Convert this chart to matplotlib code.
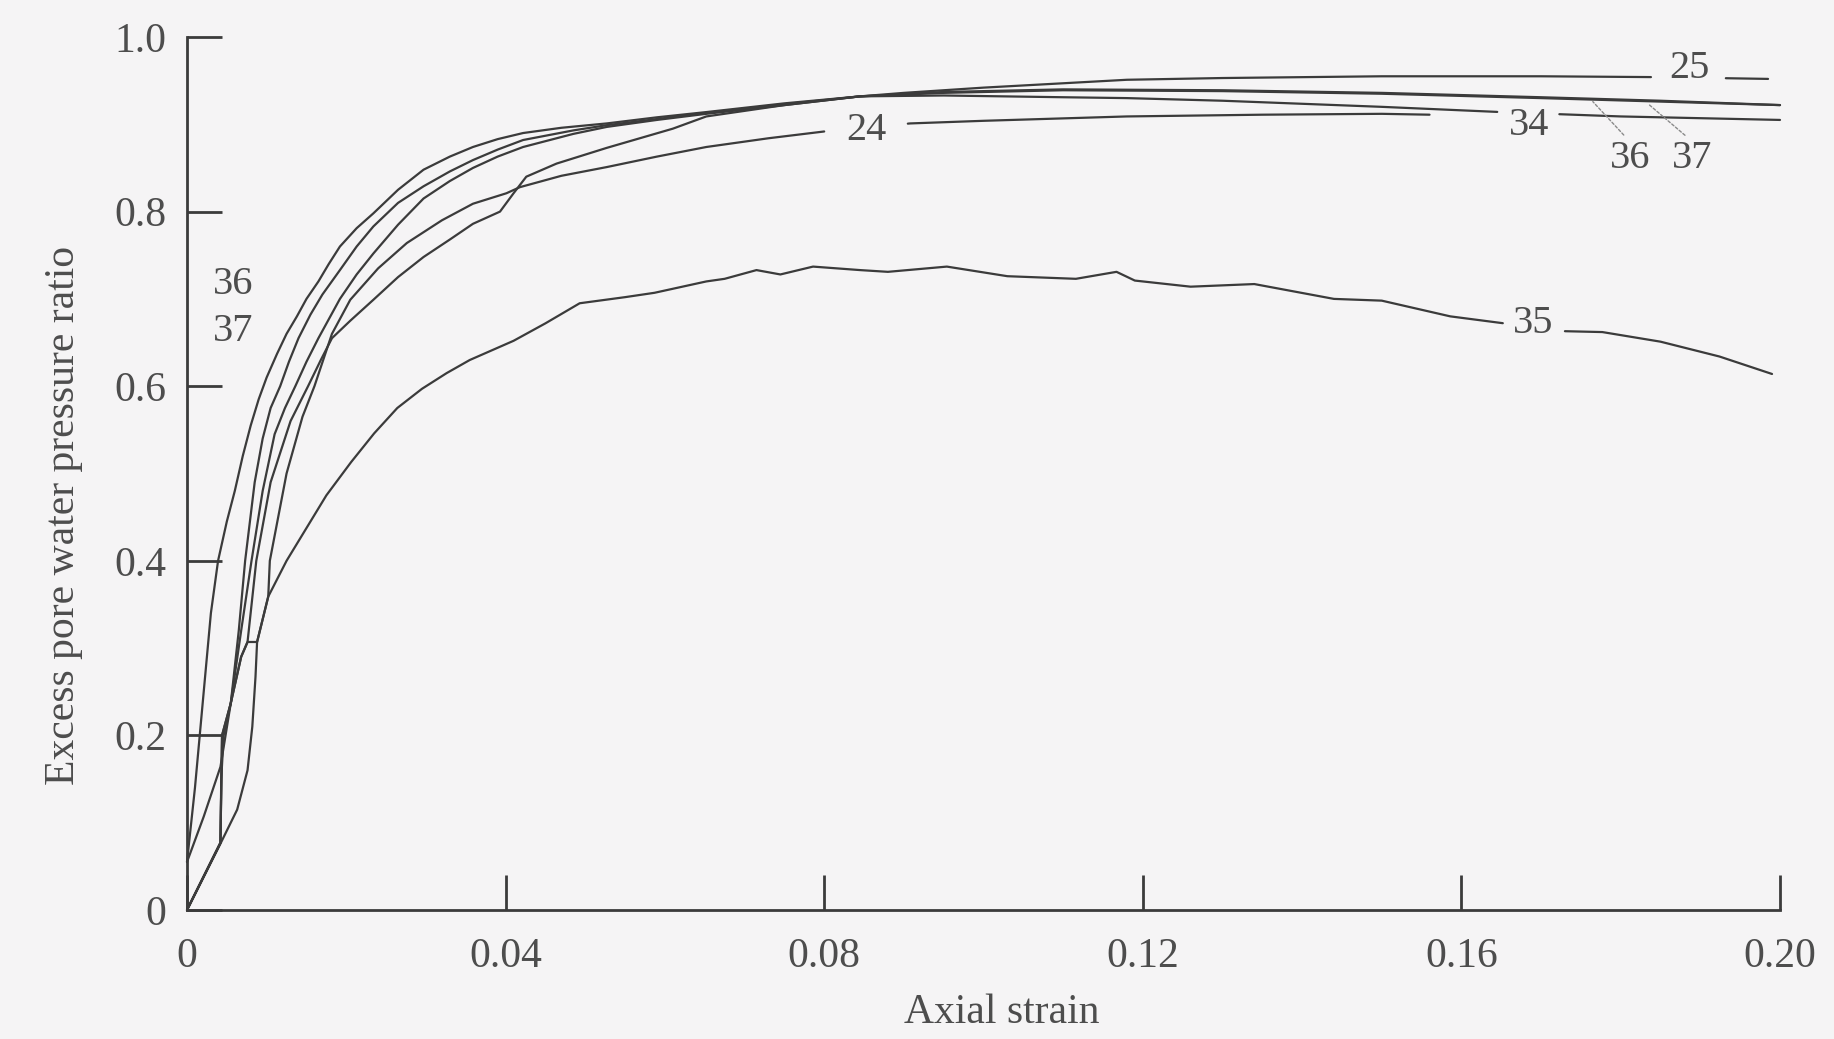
import numpy as np
import matplotlib
matplotlib.use("Agg")
import matplotlib.pyplot as plt

# ---- data: axial strain vs excess pore water pressure ratio, one list pair per test ----
strain_36 = [0, 0.001, 0.002, 0.003, 0.0039, 0.005, 0.006, 0.007, 0.008, 0.009, 0.010,
             0.0113, 0.0125, 0.0138, 0.015, 0.0165, 0.0178, 0.0192, 0.0213, 0.0234,
             0.0265, 0.0297, 0.0330, 0.0359, 0.0390, 0.0422, 0.0470, 0.0527, 0.0590,
             0.0652, 0.0750, 0.0845, 0.0950, 0.1100, 0.1300, 0.1500, 0.1700, 0.1850,
             0.2000]
ratio_36 = [0.055, 0.14, 0.24, 0.34, 0.40, 0.445, 0.48, 0.52, 0.555, 0.585, 0.61,
            0.637, 0.66, 0.68, 0.70, 0.72, 0.74, 0.76, 0.781, 0.798,
            0.825, 0.848, 0.863, 0.874, 0.883, 0.890, 0.896, 0.901, 0.908,
            0.914, 0.924, 0.932, 0.937, 0.940, 0.939, 0.936, 0.931, 0.927,
            0.922]

strain_37 = [0, 0.0021, 0.0042, 0.0055, 0.0065, 0.0073, 0.0085, 0.0095, 0.0105, 0.0117,
             0.0128, 0.0140, 0.0155, 0.0170, 0.0192, 0.0213, 0.0234, 0.0265, 0.0297,
             0.0330, 0.0359, 0.0390, 0.0422, 0.0485, 0.0527, 0.0590, 0.0652, 0.0750,
             0.0845, 0.0950, 0.1100, 0.1300, 0.1500, 0.1700, 0.1850, 0.2000]
ratio_37 = [0.055, 0.107, 0.164, 0.237, 0.32, 0.40, 0.49, 0.54, 0.575, 0.60,
            0.628, 0.655, 0.682, 0.705, 0.733, 0.760, 0.783, 0.810, 0.829,
            0.846, 0.859, 0.871, 0.882, 0.893, 0.899, 0.906, 0.913, 0.923,
            0.932, 0.936, 0.939, 0.938, 0.935, 0.930, 0.926, 0.922]

strain_25 = [0, 0.0042, 0.0043, 0.0046, 0.0055, 0.0068, 0.0081, 0.0095, 0.0110, 0.0123,
             0.0136, 0.0150, 0.0165, 0.0192, 0.0213, 0.0234, 0.0265, 0.0297, 0.0330,
             0.0359, 0.0390, 0.0422, 0.0485, 0.0527, 0.0590, 0.0652, 0.0750, 0.0845,
             0.0900, 0.1000, 0.1100, 0.1180, 0.1300, 0.1500, 0.1700, 0.1850, 0.1985]
ratio_25 = [0, 0.077, 0.15, 0.20, 0.237, 0.32, 0.40, 0.48, 0.545, 0.575,
            0.60, 0.628, 0.655, 0.70, 0.728, 0.752, 0.785, 0.815, 0.835,
            0.850, 0.863, 0.874, 0.889, 0.897, 0.905, 0.912, 0.922, 0.932,
            0.936, 0.942, 0.947, 0.951, 0.953, 0.955, 0.955, 0.954, 0.952]

strain_34 = [0, 0.0042, 0.0044, 0.0055, 0.0068, 0.0076, 0.0087, 0.0105, 0.0130, 0.0152,
             0.0168, 0.0182, 0.0205, 0.0234, 0.0265, 0.0297, 0.0330, 0.0359, 0.0393,
             0.0410, 0.0426, 0.0464, 0.0527, 0.0610, 0.0652, 0.0750, 0.0845, 0.0950,
             0.1100, 0.1180, 0.1300, 0.1500, 0.1650, 0.1800, 0.2000]
ratio_34 = [0, 0.077, 0.20, 0.237, 0.29, 0.307, 0.40, 0.49, 0.56, 0.60,
            0.63, 0.655, 0.675, 0.699, 0.725, 0.748, 0.768, 0.786, 0.800,
            0.821, 0.840, 0.855, 0.873, 0.895, 0.909, 0.922, 0.932, 0.933,
            0.931, 0.930, 0.927, 0.920, 0.914, 0.909, 0.905]

strain_24 = [0, 0.0042, 0.0044, 0.0055, 0.0068, 0.0076, 0.0088, 0.0102, 0.0104, 0.0125,
             0.0145, 0.0160, 0.0182, 0.0205, 0.0240, 0.0276, 0.0320, 0.0359, 0.0401,
             0.0418, 0.0470, 0.0527, 0.0590, 0.0652, 0.0730, 0.0811, 0.0908, 0.1000,
             0.1180, 0.1350, 0.1500, 0.1560]
ratio_24 = [0, 0.077, 0.20, 0.237, 0.29, 0.307, 0.307, 0.359, 0.40, 0.50,
            0.565, 0.60, 0.66, 0.699, 0.735, 0.764, 0.790, 0.809, 0.821,
            0.828, 0.841, 0.851, 0.863, 0.874, 0.884, 0.893, 0.901, 0.904,
            0.909, 0.911, 0.912, 0.911]

strain_35 = [0, 0.0042, 0.0063, 0.0076, 0.0082, 0.0086, 0.0088, 0.0102, 0.0125, 0.0147,
             0.0175, 0.0206, 0.0235, 0.0264, 0.0295, 0.0326, 0.0355, 0.0380, 0.0410,
             0.0450, 0.0493, 0.0550, 0.0587, 0.0652, 0.0675, 0.0715, 0.0745, 0.0786,
             0.0845, 0.0880, 0.0954, 0.1030, 0.1116, 0.1167, 0.1190, 0.1260, 0.1340,
             0.1440, 0.1500, 0.1586, 0.1645, 0.1730, 0.1777, 0.1850, 0.1924, 0.1990]
ratio_35 = [0, 0.076, 0.115, 0.16, 0.21, 0.267, 0.307, 0.359, 0.40, 0.433,
            0.475, 0.513, 0.546, 0.575, 0.597, 0.615, 0.630, 0.640, 0.652,
            0.672, 0.695, 0.702, 0.707, 0.720, 0.723, 0.733, 0.728, 0.737,
            0.733, 0.731, 0.737, 0.726, 0.723, 0.731, 0.721, 0.714, 0.717,
            0.700, 0.698, 0.680, 0.673, 0.663, 0.662, 0.651, 0.634, 0.614]

x_ticks = [0, 0.04, 0.08, 0.12, 0.16, 0.20]
x_tick_labels = ["0", "0.04", "0.08", "0.12", "0.16", "0.20"]
y_ticks = [0, 0.2, 0.4, 0.6, 0.8, 1.0]
y_tick_labels = ["0", "0.2", "0.4", "0.6", "0.8", "1.0"]

# ---- styling ----
BG = "#f5f4f5"
INK = "#3b3b3b"
TEXT = "#4d4d4d"
plt.rcParams["font.family"] = ["Liberation Serif", "DejaVu Serif"]

fig = plt.figure(figsize=(18.34, 10.39), dpi=100, facecolor=BG)
ax = fig.add_axes([0.10196, 0.12416, 0.86859, 0.84023])
ax.set_facecolor(BG)


def broken(x, y, gaps):
    """Return the curve with short breaks where an inline label sits."""
    x = np.asarray(x, float)
    y = np.asarray(y, float)
    for a, b in gaps:
        ya, yb = np.interp([a, b], x, y)
        left = x < a
        right = x > b
        x = np.concatenate([x[left], [a, np.nan, b], x[right]])
        y = np.concatenate([y[left], [ya, np.nan, yb], y[right]])
    return x, y


curves = [
    (strain_36, ratio_36, []),
    (strain_37, ratio_37, []),
    (strain_25, ratio_25, [(0.1838, 0.1932)]),
    (strain_34, ratio_34, [(0.1645, 0.1723)]),
    (strain_24, ratio_24, [(0.0800, 0.0905)]),
    (strain_35, ratio_35, [(0.1652, 0.1730)]),
]
for sx, sy, gaps in curves:
    bx, by = broken(sx, sy, gaps)
    ax.plot(bx, by, color=INK, lw=1.6, solid_capstyle="round",
            solid_joinstyle="round", clip_on=False)

# inline curve labels
lab_kw = dict(fontsize=29, color=TEXT, ha="center", va="center")
ax.text(0.1886, 0.964, "25", **lab_kw)
ax.text(0.1685, 0.899, "34", **lab_kw)
ax.text(0.0853, 0.893, "24", **lab_kw)
ax.text(0.1690, 0.672, "35", **lab_kw)
ax.text(0.0058, 0.717, "36", **lab_kw)
ax.text(0.0058, 0.663, "37", **lab_kw)

# end labels with leader lines for tests 36 and 37
lead = dict(arrowstyle="-", color="#8a8a8a", lw=1.0, linestyle=(0, (2, 1.5)),
            shrinkA=2, shrinkB=0, relpos=(0.45, 1.0))
ax.annotate("36", xy=(0.1765, 0.926), xytext=(0.1812, 0.861),
            arrowprops=lead, **lab_kw)
ax.annotate("37", xy=(0.1835, 0.923), xytext=(0.1890, 0.861),
            arrowprops=lead, **lab_kw)

# axes
ax.set_xlim(0, 0.20)
ax.set_ylim(0, 1.0)
for side in ("top", "right"):
    ax.spines[side].set_visible(False)
for side in ("left", "bottom"):
    ax.spines[side].set_color(INK)
    ax.spines[side].set_linewidth(2.0)

ax.set_xticks(x_ticks)
ax.set_xticklabels(x_tick_labels)
ax.set_yticks(y_ticks)
ax.set_yticklabels(y_tick_labels)
ax.tick_params(axis="both", direction="in", length=25, width=2.0, color=INK,
               labelsize=30, labelcolor=TEXT)
ax.tick_params(axis="x", pad=20)
ax.tick_params(axis="y", pad=15)

ax.set_xlabel("Axial strain", fontsize=30, color=TEXT)
ax.xaxis.set_label_coords(0.5116, -0.118)
ax.xaxis.label.set_va("center")
ax.set_ylabel("Excess pore water pressure ratio", fontsize=30, color=TEXT)
ax.yaxis.set_label_coords(-0.0772, 0.452)
ax.yaxis.label.set_va("center")

fig.savefig("out.png", dpi=100, facecolor=BG)
